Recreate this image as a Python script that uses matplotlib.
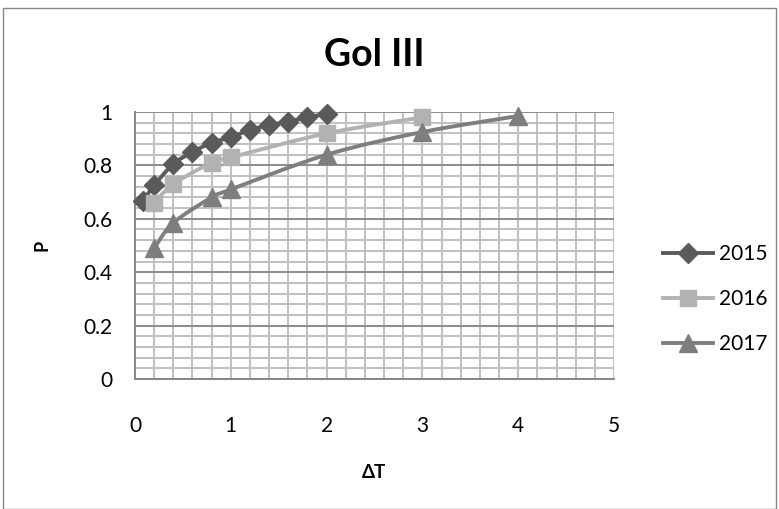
import matplotlib
matplotlib.use("Agg")
import numpy as np
from matplotlib import pyplot as plt
from matplotlib.path import Path
from matplotlib.patches import PathPatch, Rectangle
from matplotlib.lines import Line2D
from matplotlib.ticker import MultipleLocator

plt.rcParams['font.family'] = ['Lato', 'DejaVu Sans']

# series read as (dT, P)
x_2015 = [0.08, 0.2, 0.4, 0.6, 0.8, 1.0, 1.2, 1.4, 1.6, 1.8, 2.0]
p_2015 = [0.665, 0.725, 0.805, 0.85, 0.885, 0.905, 0.933, 0.95, 0.964, 0.98, 0.993]
x_2016 = [0.2, 0.4, 0.8, 1.0, 2.0, 3.0]
p_2016 = [0.66, 0.73, 0.81, 0.83, 0.92, 0.98]
x_2017 = [0.2, 0.4, 0.8, 1.0, 2.0, 3.0, 4.0]
p_2017 = [0.49, 0.585, 0.68, 0.71, 0.84, 0.925, 0.985]

years = ['2015', '2016', '2017']
colors = ['#5a5a5a', '#b2b2b2', '#7e7e7e']
markers = ['D', 's', '^']
msizes = [10.5, 12, 13]


def smooth_path(xs, ys, t=1 / 6):
    # Catmull-Rom style bezier through the points, like a smoothed line
    pts = np.column_stack([xs, ys])
    verts = [pts[0]]
    codes = [Path.MOVETO]
    n = len(pts)
    for i in range(n - 1):
        p0 = pts[max(i - 1, 0)]
        p1 = pts[i]
        p2 = pts[i + 1]
        p3 = pts[min(i + 2, n - 1)]
        c1 = p1 + (p2 - p0) * t
        c2 = p2 - (p3 - p1) * t
        verts += [c1, c2, p2]
        codes += [Path.CURVE4] * 3
    return Path(verts, codes)


fig = plt.figure(figsize=(7.79, 5.09), dpi=100)
fig.patches.append(Rectangle((3 / 779, 0), 773 / 779, 1 - 8 / 509, transform=fig.transFigure,
                             fill=False, edgecolor='#868686', linewidth=1))
ax = fig.add_axes([135 / 779, 1 - 379 / 509, 479 / 779, 267 / 509])

ax.set_xlim(0, 5)
ax.set_ylim(0, 1)
ax.xaxis.set_major_locator(MultipleLocator(1))
ax.xaxis.set_minor_locator(MultipleLocator(0.2))
ax.yaxis.set_major_locator(MultipleLocator(0.2))
ax.yaxis.set_minor_locator(MultipleLocator(0.04))
ax.grid(which='minor', color='#c0c0c0', linewidth=1.4)
ax.grid(which='major', axis='x', color='#c0c0c0', linewidth=1.4)
ax.grid(which='major', axis='y', color='#8c8c8c', linewidth=1.4)
ax.set_axisbelow(True)
ax.tick_params(which='both', length=0, labelsize=15)
ax.tick_params(axis='x', pad=27)
ax.tick_params(axis='y', pad=16)
ax.set_yticks([0, 0.2, 0.4, 0.6, 0.8, 1.0])
ax.set_yticklabels(['0', '0.2', '0.4', '0.6', '0.8', '1'])
for s in ['top', 'right']:
    ax.spines[s].set_visible(False)
for s in ['left', 'bottom']:
    ax.spines[s].set_color('#868686')
    ax.spines[s].set_linewidth(1.4)

series = [(x_2015, p_2015), (x_2016, p_2016), (x_2017, p_2017)]
handles = []
for (xs, ys), c, m, ms, yr in zip(series, colors, markers, msizes, years):
    ax.add_patch(PathPatch(smooth_path(xs, ys), facecolor='none', edgecolor=c,
                           linewidth=2.8, zorder=3, clip_on=False))
    ax.plot(xs, ys, linestyle='none', marker=m, markersize=ms, color=c, zorder=4, clip_on=False)
    handles.append(Line2D([], [], color=c, linewidth=2.8, marker=m, markersize=ms, label=yr))

ax.set_title('Gol III', fontsize=27, fontweight='bold', pad=33)
ax.set_xlabel('ΔT', fontsize=13.5, fontweight='bold', labelpad=20)
ax.set_ylabel('P', fontsize=13, fontweight='bold', labelpad=24)

fig.legend(handles=handles, loc='center left', bbox_to_anchor=(644 / 779, 1 - 299 / 509),
           frameon=False, fontsize=15, handlelength=2.4, labelspacing=1.2, handletextpad=0.3)

fig.savefig('out.png', dpi=100)
plt.close(fig)
